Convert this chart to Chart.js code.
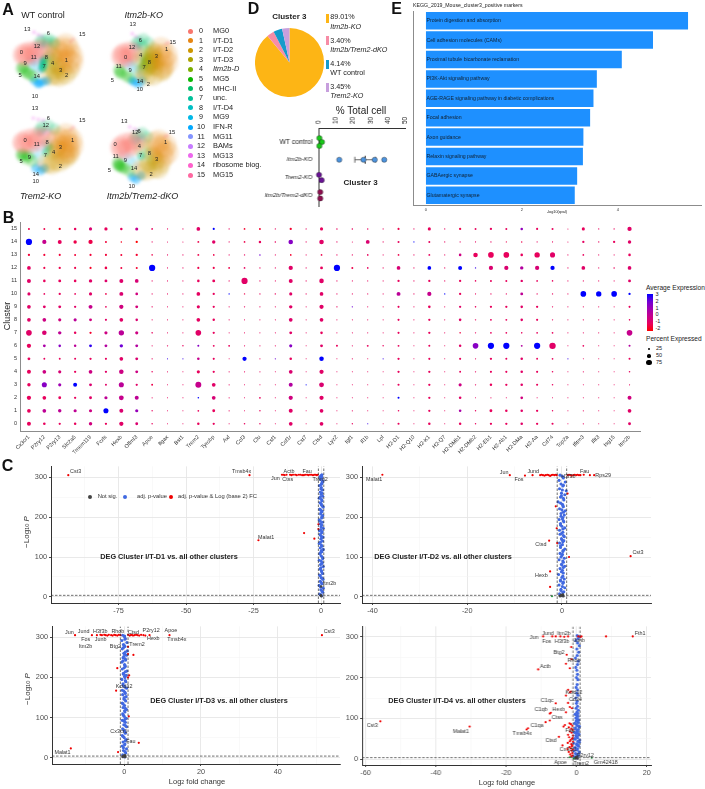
<!DOCTYPE html>
<html>
<head>
<meta charset="utf-8">
<title>Cluster 3 figure</title>
<script src="https://cdn.jsdelivr.net/npm/chart.js@4"></script>
<style>
  html, body { margin: 0; padding: 0; background: #fff; }
  #page { position: relative; width: 705px; height: 789px; overflow: hidden; font-family: "Liberation Sans", Arial, sans-serif; color: #222; }
  #page canvas { position: absolute; }
  .t { position: absolute; white-space: nowrap; line-height: 1; }
  sub { font-size: 70%; vertical-align: -18%; line-height: 0; }
</style>
</head>
<body>
<div id="page"></div>
<script>
// ---------- panel A: umap regions, cluster / x / y
const clusterNames = ['MG0', 'I/T-D1', 'I/T-D2', 'I/T-D3', 'Itm2b-D', 'MG5', 'MHC-II', 'unc.', 'I/T-D4', 'MG9', 'IFN-R', 'MG11', 'BAMs', 'MG13', 'ribosome biog.', 'MG15'];
const wtUmap = [[1,200,140],[1,225,145],[1,238,170],[1,205,165],[1,225,190],[1,195,190],[1,238,195],[1,180,150],[1,215,125],[2,200,225],[2,175,248],[2,215,245],[2,232,225],[2,155,252],[2,190,255],[3,180,210],[3,170,230],[3,165,170],[0,42,160],[0,55,155],[0,70,150],[0,90,150],[0,60,172],[0,45,172],[0,90,168],[0,110,140],[0,128,140],[5,38,220],[5,50,230],[5,70,245],[5,44,215],[5,85,252],[5,60,238],[6,120,105],[6,145,100],[6,165,110],[6,140,115],[6,110,115],[6,170,120],[12,95,130],[12,115,130],[12,130,125],[10,90,270],[10,105,283],[10,125,275],[10,140,270],[10,110,280],[7,125,190],[7,125,205],[7,122,220],[7,130,180],[7,125,190],[7,124,205],[7,123,218],[8,150,170],[8,140,190],[9,75,195],[9,90,210],[9,105,225],[11,100,175],[11,85,185],[14,110,230],[4,160,190],[4,150,215],[4,150,150],[13,88,72],[13,105,82],[13,120,88],[15,235,110],[15,245,100]];
const koUmap = [[3,460,170],[3,470,150],[3,455,195],[3,480,190],[3,445,215],[3,475,215],[3,430,235],[3,465,185],[3,458,205],[3,470,165],[1,500,140],[1,520,165],[1,522,195],[1,505,210],[1,490,165],[1,505,180],[2,500,235],[2,470,250],[2,440,252],[2,510,225],[4,420,165],[4,440,155],[4,430,185],[4,410,185],[0,345,160],[0,355,155],[0,375,150],[0,390,155],[0,348,178],[0,370,176],[0,338,170],[5,332,225],[5,340,240],[5,360,250],[5,375,258],[5,336,235],[6,410,110],[6,430,100],[6,450,115],[6,425,125],[6,400,120],[12,395,130],[12,410,130],[10,395,275],[10,410,285],[10,425,270],[10,385,270],[7,435,190],[7,430,210],[8,425,225],[8,440,175],[9,375,205],[9,390,215],[9,405,230],[11,360,195],[14,415,245],[13,385,78],[13,400,90],[13,415,97],[15,520,120],[15,530,115]];
const trem2Umap = [[1,215,395],[1,235,415],[1,238,440],[1,215,420],[1,190,410],[1,225,460],[1,200,445],[1,205,470],[1,220,440],[1,172,425],[2,190,505],[2,160,515],[2,215,490],[2,170,500],[2,230,475],[2,140,510],[3,180,450],[0,42,420],[0,60,410],[0,85,405],[0,110,400],[0,135,400],[0,52,435],[0,75,430],[0,100,420],[0,40,428],[5,40,480],[5,55,490],[5,80,500],[5,50,475],[5,38,472],[5,65,480],[6,120,360],[6,145,355],[6,170,370],[6,110,375],[12,115,385],[12,140,382],[10,95,530],[10,115,540],[10,130,530],[14,110,515],[13,85,325],[13,105,330],[13,125,335],[15,235,372],[15,245,362],[9,90,465],[9,105,490],[7,135,465],[7,150,445],[8,140,430],[11,115,440],[4,160,465]];
const dkoUmap = [[1,490,410],[1,515,425],[1,523,455],[1,490,435],[1,505,470],[1,475,420],[1,505,445],[2,470,520],[2,440,530],[2,500,500],[2,420,525],[2,490,522],[3,470,470],[3,450,500],[3,480,490],[0,340,425],[0,355,415],[0,380,410],[0,405,405],[0,345,445],[0,365,440],[0,335,435],[0,390,425],[5,328,495],[5,335,510],[5,355,520],[5,375,532],[5,328,505],[5,335,508],[5,345,515],[6,405,385],[6,425,375],[6,445,390],[6,395,400],[12,400,405],[12,420,400],[10,385,555],[10,400,565],[10,420,550],[9,375,480],[9,390,500],[11,350,470],[14,405,510],[13,375,350],[13,395,358],[13,410,365],[15,515,390],[15,525,385],[4,420,440],[4,435,430],[7,420,470],[8,445,460]];
const wtLabels = [[13,82,88],[6,145,101],[15,247,103],[12,111,138],[0,64,156],[11,101,172],[8,139,171],[1,199,182],[9,75,191],[4,158,189],[7,132,198],[3,182,210],[5,60,225],[14,110,228],[2,200,226],[10,105,288]];
const koLabels = [[13,398,72],[6,421,122],[15,518,128],[12,396,143],[0,377,172],[1,500,148],[4,422,165],[3,469,168],[8,448,188],[7,432,203],[11,356,200],[9,390,210],[5,337,240],[14,420,245],[2,445,254],[10,419,267]];
const trem2Labels = [[13,105,326],[6,145,356],[15,247,362],[12,137,377],[0,75,422],[11,110,434],[8,141,428],[1,218,420],[3,181,441],[4,161,458],[7,136,465],[9,88,472],[5,63,485],[14,107,523],[2,181,500],[10,107,544]];
const dkoLabels = [[13,373,364],[6,417,393],[12,406,398],[15,516,397],[0,345,433],[1,497,428],[4,418,440],[8,448,459],[7,422,467],[3,470,478],[11,347,470],[9,376,482],[5,328,510],[14,402,506],[2,453,522],[10,395,560]];

// ---------- panel B: dot plot
const genes = ['Cx3cr1','P2ry12','P2ry13','Slc2a5','Tmem119','Fcrls','Hexb','Olfml3','Apoe','Itgax','Bst1','Trem2','Tyrobp','Axl','Ccl3','Clu','Csf1','Csf1r','Cst7','Ctsd','Lyz2','Igf1','Il1b','Lpl','H2-D1','H2-Q10','H2-K1','H2-Q7','H2-DMb1','H2-DMb2','H2-Eb1','H2-Ab1','H2-DMa','H2-Aa','Cd74','Top2a','Ifitm3','Ifit3','Isg15','Itm2b'];
const pctByCluster = [
  [55,30,25,28,45,25,60,35,10,3,3,28,25,4,12,10,3,50,3,50,3,8,5,3,22,3,28,3,28,10,25,25,30,25,22,3,6,3,3,35],
  [50,50,45,40,40,75,55,40,8,3,3,15,35,6,3,10,3,55,3,50,3,5,3,3,12,3,25,3,30,10,35,28,30,25,10,3,5,3,3,50],
  [60,50,35,25,35,40,70,55,5,4,4,12,50,5,4,15,4,60,3,60,3,3,3,3,20,3,25,3,30,3,5,4,32,4,4,3,3,3,3,55],
  [45,75,40,55,35,20,75,25,18,3,4,90,50,5,4,4,3,55,5,70,3,3,3,3,22,3,25,3,40,8,28,25,30,22,12,3,3,3,3,5],
  [55,50,40,25,50,25,65,35,10,4,3,40,25,5,5,4,3,50,3,60,3,3,3,3,25,3,25,3,18,8,22,22,30,22,12,3,5,3,3,12],
  [35,18,18,20,25,22,50,35,8,4,4,30,22,3,60,5,6,30,3,65,3,5,3,4,25,3,22,3,22,5,25,20,30,18,15,5,3,3,3,20],
  [60,35,30,28,35,35,45,35,4,8,10,20,18,18,5,4,4,40,3,35,20,4,18,10,18,3,20,3,28,85,95,95,18,95,98,3,15,3,3,20],
  [85,65,45,28,25,40,80,40,12,3,3,85,25,3,3,3,3,35,3,30,3,3,3,3,22,3,25,3,12,8,15,15,12,15,15,3,4,3,3,85],
  [50,50,40,40,35,22,50,30,5,3,3,50,28,5,3,3,3,50,3,50,3,3,3,3,22,3,25,3,30,10,18,18,30,22,8,3,6,4,3,12],
  [50,35,35,25,55,15,60,35,10,3,3,40,25,4,8,6,4,45,3,60,10,8,3,3,22,4,30,3,25,12,25,25,30,25,8,3,5,3,3,20],
  [40,15,25,15,40,15,55,32,5,3,3,50,25,8,10,8,10,40,5,50,5,4,4,3,55,5,60,8,25,5,8,6,35,8,8,3,85,80,85,25],
  [55,30,35,30,45,35,55,50,5,3,3,30,35,6,95,6,3,55,5,65,5,3,3,3,25,5,25,5,25,12,20,20,28,15,12,3,5,3,3,35],
  [50,22,25,22,22,30,20,20,95,4,4,22,22,18,15,8,5,60,4,35,95,20,14,5,50,5,50,5,55,8,60,60,45,60,60,4,50,4,10,50],
  [25,22,22,20,22,22,20,25,12,5,5,18,15,4,8,10,4,15,3,15,6,6,14,3,15,5,18,4,30,65,85,85,30,80,75,3,15,3,3,30],
  [95,60,55,45,60,20,12,25,5,3,3,18,45,4,15,28,12,65,5,65,6,3,52,5,20,5,20,5,5,5,8,5,10,5,5,3,25,8,25,45],
  [20,18,25,28,40,42,28,38,15,5,4,50,22,7,15,18,6,25,6,40,10,12,10,5,22,5,40,7,25,18,25,20,30,22,20,3,40,7,8,60]
];
const expByCluster = [
  [-1,-1,-1,-1,-.3,-1,-.8,-.6,-1,-1,-1,-1,-1,-1,-1,-1,-1,-.8,-1,-.8,-1,-1,2.5,-1,-1,-1,-1,-1,-1,-1,-1,-1,-.8,-1,-1,-1,-1,-1,-1,-.8],
  [-1,.2,.2,.2,-.2,3,-.6,1.2,-1,-1,-1,-1,-1,-1,-1,-1,-1,-.8,-1,-.8,-1,-1,-1,-1,-1,-1,-1,-1,.7,-1,-1,-1,-.8,-1,-1,-1,-1,-1,-1,-.8],
  [-1,-1,-1,-1,-.8,.2,0,.2,-1,-1,-1,3,-.5,-1,-1,-1,-1,-.3,-1,-.8,-1,-1,-1,-1,3,-1,-1,-1,-.8,-1,-1,-1,-.3,-1,-1,-1,-1,-1,-1,-.3],
  [-1,1.5,1,3,-.6,-.8,.3,-.8,-1.2,-1,-1,0,-.8,-1,-1,-1,-1,.5,3,-.6,-1,-1,-1,-1,-1,-1,-1,-1,-.2,-1,-1,-1,-.8,-1,-1,-1,-1,-1,-1,-1],
  [-1,-.2,-.5,-1,-.2,-.8,-.2,-.2,-1,-1,-1,-1,-1,-1,-1,-1,-1,-.6,-1,-.8,-1,-1,-1,-1,-1,-1,-1,-1,-1,-1,-1,-1,-.8,-1,-1,-1,-1,-1,-1,-1],
  [-1,-1,-1,-1,-1,-1,-.8,-.6,-1,2.5,2.5,0,-1,-1,3,-1,2,-1,-1,3,-1,-1,-1,2.5,-1,-1,-1,-1,-1,-1,-1,-1,-.8,-1,-1,2.5,-1,-1,-1,-1],
  [-1,.7,1.5,.3,2.6,.5,2,.5,-1,-1,-1,1.5,-1,-1,-1,-1,-1,1.5,-1,-.8,-1,-1,-1,-1,-1,-1,-1,-1,-.8,1.5,3,3,.5,3,-.8,-1,-1,-1,-1,.5],
  [-.8,-.6,.2,-1,-1.5,-.2,.3,-.2,-1,-1,-1,-.8,-1,-1,-1,-1,-1,-.8,-1,-1,-1,-1,-1,-1,-1,-1,-1,-1,-1.3,-1,-1,-1,-1,-1,-1,-1,-1,-1,-1,0],
  [-.8,-.2,-.3,.3,-.3,-.8,-.8,-.6,-1,-1,-1,-.9,-1,-1,-1,-1,-1,-.7,-1,-.8,-1,-1,-1,-1,-1,-1,-1,-1,-.8,-1,-1,-1,-.8,-1,-1,-1,-1,-1,-1,-1],
  [-.8,-.8,-.8,-.8,0,-1,-.3,-.4,-1,-1,-1,-.9,-1,-1,-1,-1,-1,-.8,-1,-.8,-1,2,-1,-1,-1,-1,-1,-1,-.8,-1,-1,-1,-.8,-1,-1,-1,-1,-1,-1,-1],
  [-.8,-1,-1,-1,-.8,-1.2,-.6,-.3,-1,-1,-1,-.9,-1,3,-1.2,-1,-1,-.8,-1,-.8,-1,-1,-1,-1,.3,-1,0,3,-1,-1,-1,-1,.2,-1,-1,-1,3,3,3,3],
  [-.8,-1,-1,-1,-.8,-.7,-.7,-.5,-1,-1,-1,-1,-1,-1,-.8,-1,-1,-.8,-1,-.8,-1,-1,-1,-1,-1,-1,-1,-1,-1,-1,-1,-1,-.8,-1,-1,-1,-1,-1,-1,-.8],
  [-.9,-1.2,-1.2,-1.2,-1.6,-1.2,-1.3,-1.5,3,-1,-1,-1.2,-1.2,-1.2,-1,-1,-1,-.8,-1,-1,3,-1.2,-1,-1,-.5,-1,3,-1,3,2.5,-.6,-.6,.5,-.5,3,-1,-.8,-1,-1,-.7],
  [-1.4,-1.4,-1.4,-1.4,-1.4,-1.4,-1.4,-1.5,-1.2,-1,-1,-1.2,-1.2,-1,-1,2,-1,-1.5,-1,-1.2,-1,-1,-1,-1,-1.2,-1,-1,-1,-.2,-1,-1,-1,-1,-1,-.8,-1,-1,-1,-1,-1],
  [3,0,-1,-1.2,-1.2,-1.4,-1.7,-2,-1,-1,-1,-1.2,-.8,-1,-1.2,-1,-1,1.5,-1,-.8,-1,-1,-.6,-1,-1,3,-1,-1,-1,-1,-1,-1.2,-1.2,-1,-1,-1,-.9,-1,-1,-.8],
  [-1.2,-1.2,-1.5,-1,-.6,-1,-1,0,-1,-1,-1,-.8,3,-1,-1.5,-1.5,-1,-1.5,-1,-1,-1,-1,-1,-1,-1.2,-1,-1,-1,-1.2,-1,-1,-1,1.3,-1,-1,-1,-1,-1,-1,-.8]
];

// ---------- panel C: volcano plots
const d1BlueX = [.2,-.5,.6,-.1,.8,-.7,.3,-.3,.7,0,-.6,.5,.1,-.4,.8,-.2,.4,-.7,.6,0,-.5,.3,.8,-.3,.1,-.7,.5,-.1,.7,-.4,.2,-.6,.8,0,-.3,.5,-.7,.2,.6,-.2,.4,-.5,.8,.1,-.4,.3,-.7,.6,0,-.3,.5,.1,-.6,.3,.7,-.2,
  0,.3,-.2,.1,.4,-.3,.2,-.1,.3,0,.4,-.2,.1,.3,-.3,.2,0,.4,-.1,.2,-.3,.3,.1,-.2,.4,0,.2,-.3,.3,-.1,.1,.4,-.2,.2,0,.3,-.4,.1,.2,-.1];
const d1BlueY = [3,7,12,18,22,29,33,39,44,48,55,59,66,70,76,81,86,92,96,103,108,113,119,123,130,134,140,145,150,156,161,166,172,176,183,187,193,198,204,208,215,220,225,231,236,241,247,252,257,263,268,274,279,285,291,298,
  5,15,25,36,47,53,63,73,84,90,100,111,116,127,137,148,153,164,169,180,190,201,212,218,228,234,244,250,260,271,282,288,294,300,304,306,301,296];
const d1RedX = [-93.6,-26.5,-23.2,-6.3,-2.5,-1,-1,-14.5,-14,-13.5,-12.8,-11.5,-11,-10.4,-9.6,-9,-8.2,-7.6,-7,-6.4,-5.9,-5.2,-4.7,-4.1,-3.6,-3,-2.5,-2,-1.6,-1.2];
const d1RedY = [305,305,142,160,146,182,170,306,306,305,306,306,305,306,306,305,306,306,305,305,306,306,305,306,306,305,306,306,305,306];
const d1GreyX = [0,.1,-.1];
const d1GreyY = [26,2,4];
const d1LabelNames = ['Cst3','Tmsb4x','Malat1','Actb','Jun','Ctss','Fau','Trem2','Itm2b'];
const d1LabelX = [-93.6,-26.5,-23.2,-14,-14.5,-11.5,-5.9,-1,0];
const d1LabelY = [305,305,142,306,306,306,306,306,26];
const d1LabelDx = [7.3,-8,7.7,5.7,-6.5,-2.3,2,1.7,8.3];
const d1LabelDy = [-3.3,-3.3,-2.7,-3.3,3.7,5,-3.3,5,-2.7];

const d2BlueX = [.1,-.5,.4,-.2,.6,-.6,.2,-.3,.5,0,-.7,.3,.1,-.4,.6,-.1,.3,-.6,.5,0,-.4,.2,.6,-.3,.1,-.5,.4,-.1,.5,-.4,.2,-.5,.6,0,-.3,.4,-.6,.2,.5,-.2,.7,-.5,.3,.1,-.8,.4,-.3,.6,-.1,.9,-.5,.2,-.2,.7,-.6,.3,.1,-.4,
  0,.2,-.2,.1,.3,-.3,.2,-.1,.3,0,.2,-.2,.1,.3,-.3,.2,0,.3,-.1,.2,-.3,.3,.1,-.2,.3,0,.2,-.3,.3,-.1,.1,.3];
const d2BlueY = [3,8,13,19,23,30,34,40,45,49,56,60,67,71,77,82,87,93,97,104,109,114,120,124,131,135,141,146,151,157,162,167,173,177,184,188,194,199,205,209,216,221,226,232,238,243,250,256,260,266,271,278,283,288,292,298,302,305,
  5,11,16,26,37,42,52,63,74,80,90,100,107,117,128,138,143,154,159,170,180,191,196,202,212,218,229,235,247,253,268,280];
const d2RedX = [-37.9,14.5,-2.7,-2.5,-2.5,1.2,-1.3,-1.1,-1,1.5,-11,-7.8,-6.2,-4.6,-4.3,-4,-3.7,-3.4,-3.1,-2.8,-2.5,-2.2,-1.9,-1.6,-1.3,-1.1,1.2,1.5,1.8,2.1,2.4,2.7,3,3.3,3.6,3.9,4.6,5.9,6.8];
const d2RedY = [306,102,141,64,25,259,227,172,135,100,305,304,305,305,306,305,304,305,306,305,303,305,306,305,306,305,305,306,305,304,305,306,305,306,305,305,306,305,305];
const d2GreenX = [-2.1];
const d2GreenY = [2];
const d2GreyX = [-.4,0,.3,-.2,.2];
const d2GreyY = [2,3,2,5,6];
const d2LabelNames = ['Malat1','Jun','Fos','Jund','H3f3b','Fau','Rps29','Ctsd','Hexb','Cst3'];
const d2LabelX = [-37.9,-11,-7.8,-6.2,.3,4.6,6.8,-2.7,-2.5,14.5];
const d2LabelY = [306,305,304,305,305,306,305,141,64,102];
const d2LabelDx = [-8.3,-5.7,-6,.7,5,1,9,-8.3,-8.7,7.3];
const d2LabelDy = [4.3,-3,4.3,-3.3,1,-3.3,0,4.3,4.3,-3.3];

const d3BlueX = [.1,-.4,.4,-.2,.6,-.5,.2,-.3,.5,0,-.5,.3,.1,-.4,.6,-.1,.3,-.5,.5,0,-.4,.2,.6,-.3,.1,-.5,.4,-.1,.5,-.4,.2,-.5,.6,0,-.3,.4,-.6,.2,.5,-.2,.7,-.5,.3,.1,-.6,.4,-.3,.6,-.1,.8,-.5,.2,-.2,.7,-.6,.3,.1,-.4,
  0,.2,-.2,.1,.3,-.3,.2,-.1,.3,0,.2,-.2,.1,.3,-.3,.2,0,.3,-.1,.2,-.3,.3,.1,-.2,.3,0,.2,-.3,.3,-.1,.1,.3,-.2,0,.2,.1];
const d3BlueY = [2,7,12,18,22,29,34,39,45,50,55,61,66,72,77,82,88,93,98,103,109,114,120,125,130,136,141,146,152,157,163,168,173,178,184,189,195,200,205,210,216,221,227,232,238,243,249,255,260,266,271,277,282,287,292,297,301,305,
  4,15,25,32,42,53,64,69,80,91,96,106,117,123,134,144,150,160,166,176,181,192,203,208,214,224,230,241,246,252,258,263,274,280,295,303];
const d3RedX = [-12.8,-8.4,-7.1,-6.2,-5.8,-5.2,-4.8,-4.4,-4,-3.4,-3,-2.6,-2.2,-1.8,-1.4,-1,1,1.4,1.7,2,2.3,2.7,3.1,3.5,3.9,4.4,5,5.5,6.6,11.8,51.5,1,1,2.4,-1.8,1.3,1,-2.1,1.2,3.8,-13.9,-1.6];
const d3RedY = [305,305,305,306,305,306,305,304,306,305,304,306,305,304,306,305,306,304,305,306,304,305,306,305,304,306,305,304,305,305,305,276,258,256,223,205,200,167,103,37,23,14];
const d3GreyX = [-.4,0,.3,-.2,.2];
const d3GreyY = [2,3,2,5,6];
const d3LabelNames = ['Jun','Jund','H3f3b','Rhob','Ctsd','P2ry12','Apoe','Fos','Junb','Itm2b','Btg2','Trem2','Hexb','Tmsb4x','Kctd12','Cx3cr1','Fau','Malat1','Cst3'];
const d3LabelX = [-12.8,-8.4,-5.8,-2.35,1.7,5,6.6,-7.1,-4.4,-3.1,-1,1,5.5,11.8,-2.1,0,0,-13.9,51.5];
const d3LabelY = [305,305,305,305,305,305,305,305,305,305,305,276,305,305,167,60,32,23,305];
const d3LabelDx = [-5.7,-8.3,-1.7,2.7,2.7,7.7,21.3,-11.3,-6.7,-26.7,-5,9,8,7.3,8,-5.3,6.7,-8.3,7.3];
const d3LabelDy = [-2.3,-3.3,-3.3,-3.3,-2.7,-4.3,-4.3,4.3,4.7,11.7,11.7,-2.3,3.3,4.7,-4,-2,-3.3,4.3,-3.3];

const d4BlueX = [.2,-.6,.5,-.3,.8,-.7,.3,-.4,.6,0,-.8,.4,.9,-.5,.2,-.2,.7,-.6,.1,.5,-.3,.8,0,-.5,.3,.6,-.2,.4,-.4,.1,.5,-.1,.3,0,.2,-.2,.4,.1,.3,-.1,.2,.4,0,.3,.1,-.2,.3,.5,-.3,.2,.6,.1,.8,.3,-.2,.4,.9,.2,
  .4,0,.7,.2,-.2,.5,.1,.8,-.4,.3,.6,0,.4,-.3,.7,.2,.5,-.1,.3,.1,.4];
const d4BlueY = [3,6,10,14,18,21,25,29,32,36,40,44,47,51,55,58,62,66,70,73,77,81,85,88,92,96,101,105,110,115,120,125,130,137,142,150,157,162,170,176,183,195,200,208,218,225,232,240,248,254,262,270,278,285,291,296,300,303,
  8,12,16,23,27,34,38,42,49,53,60,64,68,75,79,83,90,94,98,107,112];
const d4RedX = [-55.8,-30.4,-10.9,16,8.4,-9.5,-6.9,-5.9,-4.6,-3.5,-2.4,.5,1.4,1.1,-2.8,-1.5,-1.4,-3,-1.9,-2.4,-1.9,-3,-1.6,-5.9,-2.4,-7.6,-7.3,-3,-1.9,-1.3,-7.6,-8.8,-13.8,-14.2,-5,-4,-3.3,-3.7,-2,-1.6,-1.2,-2.2,-1.5,-1.1,-1.9,-1.4,-2.4,-1,-2.1,-1.3,-1.7,-1,-2.5,-1.5,-1.2,-2,-1.6,-1,-1.4,-2.2,-1.2,-1.8,-1.1,-1.5,-2.6,-1.3,-1.9,-1.1];
const d4RedY = [93,80,220,301,301,301,301,301,301,300,301,301,301,300,256,275,245,234,223,170,164,156,166,137,138,112,114,115,128,125,95,91,76,73,55,34,84,80,88,86,82,78,75,72,68,65,60,58,54,50,47,43,40,37,34,30,27,24,21,18,15,12,9,7,25,32,44,52];
const d4GreenX = [4.3,-1.9,-.8];
const d4GreenY = [4,5,2];
const d4GreyX = [-.4,0,.3,-.2,.2];
const d4GreyY = [2,3,2,5,6];
const d4LabelNames = ['Jun','Jund','Itm2b','Fos','H3f3b','Junb','Fth1','Btg2','Rhob','Actb','Kctd12','Cd34','C1qc','C1qb','Hexb','Ctss','C1qa','Tmsb4x','Cst3','Malat1','Fau','Ctsd','Cx3cr1','P2ry12','Apoe','Trem2','Gm42418'];
const d4LabelX = [-9.5,-6.9,-4.6,-5.9,-2.4,-.8,16,-2.8,-1.4,-10.9,-1.9,-2.4,-5.9,-7.6,-3,-7.6,-13.8,-14.2,-55.8,-30.4,-1.5,-5,-1.9,0,-1.9,-.8,4.3];
const d4LabelY = [301,301,301,301,301,301,301,256,245,220,164,138,137,112,115,95,76,73,93,80,76,55,29,5,5,2,4];
const d4LabelDx = [-9,-4.3,3.3,-9,-6,5.3,7.3,-7.7,2.3,7,4,7.3,-8.7,-8.7,-7.3,7.3,9,-4.3,-8,-8.7,-1.3,-8,-1.7,8.7,-9.3,7.3,14];
const d4LabelDy = [.7,-3.3,-3.3,4.7,4.7,4.3,-3,-2.7,1.7,-2.7,0,-3,-3,-4.3,-2.7,-2.7,-2.3,3.7,4.3,4.7,2.3,4,1.7,-1.7,5.7,4.7,5];
const fcCut = 1;
const pCut = 4;

// ---------- panel D
const pieLabels = ['Itm2b-KO', 'Itm2b/Trem2-dKO', 'WT control', 'Trem2-KO'];
const pieValues = [89.01, 3.40, 4.14, 3.45];
const groupNames = ['WT control', 'Itm2b-KO', 'Trem2-KO', 'Itm2b/Trem2-dKO'];
const wtCellX = [.5, 2, .5];
const koCellX = [12, 26, 32.5, 38];
const trem2CellX = [.3, 1.8];
const dkoCellX = [1, 1];
const wtCellRow = [-.22, 0, .22];
const koCellRow = [1, 1, 1, 1];
const trem2CellRow = [1.85, 2.15];
const dkoCellRow = [2.82, 3.18];
const koMean = 27;
const koLow = 21;
const koHigh = 33;
const cellTicks = [0, 10, 20, 30, 40, 50];

// ---------- panel E
const keggTerms = ['Protein digestion and absorption','Cell adhesion molecules (CAMs)','Proximal tubule bicarbonate reclamation','PI3K-Akt signaling pathway','AGE-RAGE signaling pathway in diabetic complications','Focal adhesion','Axon guidance','Relaxin signaling pathway','GABAergic synapse','Glutamatergic synapse'];
const keggScore = [5.46, 4.73, 4.08, 3.56, 3.49, 3.42, 3.28, 3.27, 3.15, 3.10];
const keggTicks = [0, 2, 4];

// ---------- styles
const clusterColors = ['#F8766D','#E68613','#CD9600','#ABA300','#7CAE00','#0CB702','#00BE67','#00C19A','#00BFC4','#00B8E7','#00A9FF','#8494FF','#C77CFF','#ED68ED','#FF61CC','#FF68A1'];
const clusterRadius = [10,12,10,9,8,6,6,4,6,6,4.5,6,4,1.2,3,1.2];
const clusterAlpha = [.2,.17,.2,.26,.14,.24,.22,.45,.15,.14,.45,.14,.22,.8,.12,.6];
const font = '"Liberation Sans", Arial, sans-serif';
Chart.defaults.font.family = font;
Chart.defaults.animation = false;
Chart.defaults.responsive = false;
Chart.defaults.plugins.legend.display = false;
Chart.defaults.plugins.tooltip.enabled = false;

const page = document.getElementById('page');

function label(html, x, y, css, align, rot) {
  const d = document.createElement('div');
  d.className = 't';
  d.innerHTML = html;
  d.style.cssText = 'left:' + x + 'px;top:' + y + 'px;' + (css || '');
  const tx = align === 'left' ? '0' : align === 'right' ? '-100%' : '-50%';
  d.style.transform = 'translate(' + tx + ',-50%)' + (rot ? ' rotate(' + rot + 'deg)' : '');
  page.appendChild(d);
  return d;
}

function zip(xs, ys) {
  return xs.map((x, i) => ({ x: x, y: ys[i] }));
}

// makes a canvas so that the plot area lands on rect l,t,r,b with the given margins around
function plotChart(rect, m, config) {
  const c = document.createElement('canvas');
  const w = rect.r - rect.l + m.l + m.r;
  const h = rect.b - rect.t + m.t + m.b;
  c.width = w;
  c.height = h;
  c.style.left = (rect.l - m.l) + 'px';
  c.style.top = (rect.t - m.t) + 'px';
  c.style.width = w + 'px';
  c.style.height = h + 'px';
  page.appendChild(c);
  config.options = config.options || {};
  config.options.layout = { padding: { top: m.t, right: m.r, left: 0, bottom: 0 } };
  const scales = config.options.scales || {};
  if (scales.x) scales.x.afterFit = s => { s.height = scales.x.position === 'top' ? m.t : m.b; };
  if (scales.y) scales.y.afterFit = s => { s.width = m.l; };
  if (scales.x && scales.x.position === 'top') config.options.layout.padding = { top: 0, right: m.r, left: 0, bottom: m.b };
  return new Chart(c.getContext('2d'), config);
}

function pointLabels(names, xs, ys, dxs, dys, size, color) {
  return {
    id: 'pointLabels',
    afterDatasetsDraw(chart) {
      const g = chart.ctx;
      g.save();
      g.font = size + 'px ' + font;
      g.fillStyle = color;
      g.textAlign = 'center';
      g.textBaseline = 'middle';
      names.forEach((n, i) => {
        const px = chart.scales.x.getPixelForValue(xs[i]) + (dxs ? dxs[i] : 0);
        const py = chart.scales.y.getPixelForValue(ys[i]) + (dys ? dys[i] : 0);
        g.fillText(n, px, py);
      });
      g.restore();
    }
  };
}

// ---------- panel A
const umapPanels = [
  { pts: wtUmap, labels: wtLabels, x: [0, 288], y: [30, 300], rect: { l: 0, t: 10, r: 96, b: 100 } },
  { pts: koUmap, labels: koLabels, x: [288, 576], y: [30, 300], rect: { l: 96, t: 10, r: 192, b: 100 } },
  { pts: trem2Umap, labels: trem2Labels, x: [0, 288], y: [300, 570], rect: { l: 0, t: 100, r: 96, b: 190 } },
  { pts: dkoUmap, labels: dkoLabels, x: [288, 576], y: [330, 600], rect: { l: 96, t: 110, r: 192, b: 200 } }
];
umapPanels.forEach(p => {
  const sets = clusterNames.map((n, k) => {
    const hex = clusterColors[k];
    const rgb = [1, 3, 5].map(i => parseInt(hex.substr(i, 2), 16)).join(',');
    return {
      data: p.pts.filter(q => q[0] === k).map(q => ({ x: q[1], y: q[2] })),
      pointRadius: clusterRadius[k],
      pointBorderWidth: 0,
      pointBackgroundColor: 'rgba(' + rgb + ',' + clusterAlpha[k] + ')'
    };
  });
  const ch = plotChart(p.rect, { l: 0, r: 0, t: 0, b: 0 }, {
    type: 'scatter',
    data: { datasets: sets },
    options: {
      scales: {
        x: { display: false, min: p.x[0], max: p.x[1] },
        y: { display: false, reverse: true, min: p.y[0], max: p.y[1] }
      }
    }
  });
  ch.canvas.style.filter = 'blur(1.6px)';
  // numbers sit on a sharp layer above the blurred regions
  plotChart(p.rect, { l: 0, r: 0, t: 0, b: 0 }, {
    type: 'scatter',
    data: { datasets: [{ data: [], pointRadius: 0 }] },
    options: {
      scales: {
        x: { display: false, min: p.x[0], max: p.x[1] },
        y: { display: false, reverse: true, min: p.y[0], max: p.y[1] }
      }
    },
    plugins: [pointLabels(p.labels.map(q => String(q[0])), p.labels.map(q => q[1]), p.labels.map(q => q[2]), null, null, 5.8, '#222')]
  });
});
label('WT control', 43, 15, 'font-size:9px');
label('Itm2b-KO', 143.7, 15, 'font-size:9px;font-style:italic');
label('Trem2-KO', 40.7, 195.5, 'font-size:9px;font-style:italic');
label('Itm2b/Trem2-dKO', 142.5, 195.5, 'font-size:9px;font-style:italic');
clusterNames.forEach((n, i) => {
  const y = 31 + 9.6 * i;
  const dot = document.createElement('div');
  dot.style.cssText = 'position:absolute;width:5px;height:5px;border-radius:50%;left:187.5px;top:' + (y - 2.5) + 'px;background:' + clusterColors[i];
  page.appendChild(dot);
  label(String(i), 201, y, 'font-size:7.2px', 'center');
  label(n, 213, y, 'font-size:7.4px;' + (i === 4 ? 'font-style:italic' : ''), 'left');
});

// ---------- panel B
const expStops = [[-2, 255, 0, 0], [-1, 232, 0, 92], [0, 198, 0, 140], [1, 160, 0, 178], [2, 112, 0, 214], [3, 0, 0, 255]];
function expColor(v) {
  for (let i = 1; i < expStops.length; i++) {
    if (v <= expStops[i][0]) {
      const a = expStops[i - 1], b = expStops[i], t = (v - a[0]) / (b[0] - a[0]);
      return 'rgb(' + [1, 2, 3].map(k => Math.round(a[k] + (b[k] - a[k]) * t)).join(',') + ')';
    }
  }
  return 'rgb(0,0,255)';
}
const pctRadius = p => 0.45 + 0.028 * p;
const dotPoints = [], dotRadius = [], dotColor = [];
pctByCluster.forEach((row, cl) => row.forEach((p, g) => {
  dotPoints.push({ x: g, y: cl });
  dotRadius.push(pctRadius(p));
  dotColor.push(expColor(expByCluster[cl][g]));
}));
plotChart({ l: 20, t: 220, r: 640, b: 431 }, { l: 20, r: 6, t: 2, b: 28 }, {
  type: 'scatter',
  data: { datasets: [{ data: dotPoints, pointRadius: dotRadius, pointBackgroundColor: dotColor, pointBorderWidth: 0 }] },
  options: {
    scales: {
      x: {
        min: -0.58, max: 39.68,
        grid: { display: false, tickLength: 2 },
        border: { color: '#8c8c8c', width: 1 },
        ticks: { stepSize: 1, includeBounds: false, autoSkip: false, minRotation: 45, maxRotation: 45, padding: 1, color: '#333', font: { size: 5.5 }, callback: v => genes[v] }
      },
      y: {
        min: -0.556, max: 15.51,
        grid: { display: false, tickLength: 2 },
        border: { color: '#8c8c8c', width: 1 },
        ticks: { stepSize: 1, includeBounds: false, autoSkip: false, padding: 1, color: '#333', font: { size: 5.5 } }
      }
    }
  }
});
label('Cluster', 6.5, 316, 'font-size:9px', 'center', -90);
label('Average Expression', 646, 288, 'font-size:6.6px', 'left');
label('Percent Expressed', 646, 339, 'font-size:6.6px', 'left');
const ramp = document.createElement('div');
ramp.style.cssText = 'position:absolute;left:646.7px;top:294px;width:6.5px;height:37px;background:linear-gradient(#0000ff,#7000d6,#a000b2,#c6008c,#e8005c,#ff0000)';
page.appendChild(ramp);
['3', '2', '1', '0', '-1', '-2'].forEach((s, i) => label(s, 655.5, 295 + 6.8 * i, 'font-size:5.5px', 'left'));
[[25, 349], [50, 355.7], [75, 362.7]].forEach(e => {
  const r = pctRadius(e[0]);
  const d = document.createElement('div');
  d.style.cssText = 'position:absolute;background:#000;border-radius:50%;left:' + (649 - r) + 'px;top:' + (e[1] - r) + 'px;width:' + (2 * r) + 'px;height:' + (2 * r) + 'px';
  page.appendChild(d);
  label(String(e[0]), 656, e[1], 'font-size:5.5px', 'left');
});

// ---------- panel C
const BLUE = '#4169E1', RED = '#F00000', GREY = '#444', GREEN = '#1f9a3c';
function volcano(o) {
  const line = (pts) => ({ type: 'scatter', data: pts, showLine: true, pointRadius: 0, borderColor: '#333', borderWidth: 0.7, borderDash: [2.5, 1.5], order: 0 });
  const sets = [
    { data: zip(o.greyX, o.greyY), pointRadius: 1.3, pointBorderWidth: 0, pointBackgroundColor: GREY, order: 1 },
    { data: zip(o.blueX, o.blueY), pointRadius: 1.55, pointBorderWidth: 0, pointBackgroundColor: BLUE, order: 3 },
    { data: zip(o.redX, o.redY), pointRadius: 1.1, pointBorderWidth: 0, pointBackgroundColor: RED, order: 2 },
    line([{ x: o.x[0], y: pCut }, { x: o.x[1], y: pCut }]),
    line([{ x: -fcCut, y: o.y[0] }, { x: -fcCut, y: o.y[1] }]),
    line([{ x: fcCut, y: o.y[0] }, { x: fcCut, y: o.y[1] }])
  ];
  if (o.greenX) sets.push({ data: zip(o.greenX, o.greenY), pointRadius: 1, pointBorderWidth: 0, pointBackgroundColor: GREEN, order: 0 });
  const lab = { color: '#4d4d4d', autoSkip: false, includeBounds: false, padding: 2, font: { size: 7.3 } };
  const xText = v => (v % o.xStep === 0 && v !== o.x[0] ? v : '');
  plotChart(o.rect, { l: 24, r: 8, t: 0, b: 14 }, {
    type: 'scatter',
    data: { datasets: sets },
    options: {
      scales: {
        x: {
          min: o.x[0], max: o.x[1],
          border: { color: '#333', width: 1 },
          grid: {
            tickLength: 2, tickColor: c => (c.tick && xText(c.tick.value) !== '' ? '#333' : 'rgba(0,0,0,0)'),
            color: c => c.tick && c.tick.value % o.xStep === 0 ? '#e6e6e6' : '#f3f3f3',
            lineWidth: c => c.tick && c.tick.value % o.xStep === 0 ? 0.9 : 0.5
          },
          ticks: Object.assign({}, lab, { stepSize: o.xStep / 2, callback: xText })
        },
        y: {
          min: o.y[0], max: o.y[1],
          border: { color: '#333', width: 1 },
          grid: {
            tickLength: 2, tickColor: c => (c.tick && c.tick.value % 100 === 0 ? '#333' : 'rgba(0,0,0,0)'),
            color: c => c.tick && c.tick.value % 100 === 0 ? '#e6e6e6' : '#f3f3f3',
            lineWidth: c => c.tick && c.tick.value % 100 === 0 ? 0.9 : 0.5
          },
          ticks: Object.assign({}, lab, { stepSize: 50, callback: v => (v % 100 === 0 ? v : '') })
        }
      }
    },
    plugins: [pointLabels(o.names, o.labelX, o.labelY, o.dx, o.dy, 5.4, '#333')]
  });
  label(o.title, o.titleX, o.titleY, 'font-size:7.3px;font-weight:bold');
}
volcano({
  rect: { l: 51, t: 460, r: 340, b: 603.3 }, x: [-100, 7], y: [-15.2, 327], xStep: 25,
  blueX: d1BlueX, blueY: d1BlueY, redX: d1RedX, redY: d1RedY, greyX: d1GreyX, greyY: d1GreyY,
  names: d1LabelNames, labelX: d1LabelX, labelY: d1LabelY, dx: d1LabelDx, dy: d1LabelDy,
  title: 'DEG Cluster I/T-D1 vs. all other clusters', titleX: 169, titleY: 557.3
});
volcano({
  rect: { l: 362, t: 460, r: 651, b: 603.3 }, x: [-42.2, 18.8], y: [-15.2, 327], xStep: 20,
  blueX: d2BlueX, blueY: d2BlueY, redX: d2RedX, redY: d2RedY, greyX: d2GreyX, greyY: d2GreyY, greenX: d2GreenX, greenY: d2GreenY,
  names: d2LabelNames, labelX: d2LabelX, labelY: d2LabelY, dx: d2LabelDx, dy: d2LabelDy,
  title: 'DEG Cluster I/T-D2 vs. all other clusters', titleX: 443, titleY: 557.3
});
volcano({
  rect: { l: 51.7, t: 620, r: 340, b: 764.3 }, x: [-18.8, 56.2], y: [-15.7, 327], xStep: 20,
  blueX: d3BlueX, blueY: d3BlueY, redX: d3RedX, redY: d3RedY, greyX: d3GreyX, greyY: d3GreyY,
  names: d3LabelNames, labelX: d3LabelX, labelY: d3LabelY, dx: d3LabelDx, dy: d3LabelDy,
  title: 'DEG Cluster I/T-D3 vs. all other clusters', titleX: 219, titleY: 701
});
volcano({
  rect: { l: 362.3, t: 620, r: 651, b: 765 }, x: [-61, 21.2], y: [-14, 325.5], xStep: 20,
  blueX: d4BlueX, blueY: d4BlueY, redX: d4RedX, redY: d4RedY, greyX: d4GreyX, greyY: d4GreyY, greenX: d4GreenX, greenY: d4GreenY,
  names: d4LabelNames, labelX: d4LabelX, labelY: d4LabelY, dx: d4LabelDx, dy: d4LabelDy,
  title: 'DEG Cluster I/T-D4 vs. all other clusters', titleX: 457, titleY: 701
});
const yTitle = '&minus;Log<sub>10</sub> <i>P</i>';
label(yTitle, 27, 532, 'font-size:8px;color:#333', 'center', -90);
label(yTitle, 28, 689, 'font-size:8px;color:#333', 'center', -90);
const xTitle = 'Log<sub>2</sub> fold change';
label(xTitle, 197, 782, 'font-size:7.5px;color:#333');
label(xTitle, 507, 783, 'font-size:7.5px;color:#333');
// legend of the first volcano
[[90, GREY, 97.7, 'Not sig.'], [125, BLUE, 137, 'adj. p-value'], [170.7, RED, 178, 'adj. p-value &amp; Log (base 2) FC']].forEach(e => {
  const d = document.createElement('div');
  d.style.cssText = 'position:absolute;width:4.5px;height:4.5px;border-radius:50%;top:494.5px;left:' + (e[0] - 2.2) + 'px;background:' + e[1];
  page.appendChild(d);
  label(e[3], e[2], 497, 'font-size:5.8px;color:#333', 'left');
});

// ---------- panel D, pie
const pieColors = ['#FDB515', '#F78CA6', '#159BCB', '#C79FDD'];
plotChart({ l: 254.5, t: 27.5, r: 324, b: 97 }, { l: 0, r: 0, t: 0, b: 0 }, {
  type: 'pie',
  data: { labels: pieLabels, datasets: [{ data: pieValues, backgroundColor: pieColors, borderWidth: 0 }] },
  options: { rotation: 0 }
});
label('Cluster 3', 289.3, 16.7, 'font-size:8px;font-weight:bold');
[[14, 18, 17.3, 26.7], [36, 45, 40.7, 50], [60, 68, 64, 73], [83, 92, 87, 96]].forEach((e, i) => {
  const d = document.createElement('div');
  d.style.cssText = 'position:absolute;left:325.7px;width:3.5px;top:' + e[0] + 'px;height:8.5px;background:' + pieColors[i];
  page.appendChild(d);
  label(pieValues[i].toFixed(2) + '%', 330.3, e[2], 'font-size:7.2px', 'left');
  label(pieLabels[i], 330.3, e[3], 'font-size:7.2px;' + (i === 2 ? '' : 'font-style:italic'), 'left');
});

// panel D, cell share
const cellSet = (xs, rows, color) => ({ data: zip(xs, rows), clip: false, pointRadius: 2.6, pointBorderWidth: 0.4, pointBorderColor: '#222', pointBackgroundColor: color });
plotChart({ l: 318.3, t: 128, r: 405, b: 212 }, { l: 90, r: 8, t: 14, b: 1 }, {
  type: 'scatter',
  data: {
    datasets: [
      cellSet(wtCellX, wtCellRow, '#18C918'),
      cellSet(koCellX, koCellRow, '#4C93DE'),
      cellSet(trem2CellX, trem2CellRow, '#6A1296'),
      cellSet(dkoCellX, dkoCellRow, '#8E0E50'),
      { data: [{ x: koLow, y: 1 }, { x: koHigh, y: 1 }], showLine: true, borderColor: '#444', borderWidth: 0.8, pointStyle: 'line', rotation: 90, pointRadius: 3, pointBorderColor: '#444', pointBorderWidth: 0.8 },
      { data: [{ x: koMean, y: 1 }], pointStyle: 'line', rotation: 90, pointRadius: 4, pointBorderColor: '#222', pointBorderWidth: 1 }
    ]
  },
  options: {
    scales: {
      x: {
        position: 'top', min: 0, max: 50,
        border: { color: '#333', width: 1 },
        grid: { display: false, tickLength: 3, tickColor: '#333' },
        afterBuildTicks: s => { s.ticks = cellTicks.map(v => ({ value: v })); },
        ticks: { minRotation: 90, maxRotation: 90, padding: 1, labelOffset: 8, color: '#222', font: { size: 6.5 } }
      },
      y: {
        reverse: true, min: -0.79, max: 3.63,
        border: { color: '#333', width: 1 },
        grid: { display: false, tickLength: 3, tickColor: '#333' },
        ticks: {
          stepSize: 1, includeBounds: false, autoSkip: false, padding: 3, color: '#222',
          font: c => ({ size: c.tick && c.tick.value === 0 ? 6.8 : 6, style: c.tick && c.tick.value === 0 ? 'normal' : 'italic' }),
          callback: v => groupNames[v]
        }
      }
    }
  }
});
label('% Total cell', 361, 111, 'font-size:10px');
label('Cluster 3', 360.7, 183, 'font-size:8px;font-weight:bold');

// ---------- panel E
const barText = {
  id: 'barText',
  afterDatasetsDraw(chart) {
    const g = chart.ctx;
    g.save();
    g.font = '5.2px ' + font;
    g.fillStyle = '#123';
    g.textAlign = 'left';
    g.textBaseline = 'middle';
    keggTerms.forEach((t, i) => g.fillText(t, chart.scales.x.getPixelForValue(0) + 0.5, chart.scales.y.getPixelForValue(i)));
    g.restore();
  }
};
plotChart({ l: 412.7, t: 10.7, r: 701, b: 205 }, { l: 1, r: 3, t: 0, b: 8 }, {
  type: 'bar',
  data: { labels: keggTerms, datasets: [{ data: keggScore, backgroundColor: '#1E90FF', barPercentage: 0.9, categoryPercentage: 1 }] },
  options: {
    indexAxis: 'y',
    scales: {
      x: {
        min: -0.27, max: 5.73,
        border: { color: '#8c8c8c', width: 1 },
        grid: { display: false, tickLength: 1 },
        afterBuildTicks: s => { s.ticks = keggTicks.map(v => ({ value: v })); },
        ticks: { padding: 1, color: '#333', font: { size: 4 } }
      },
      y: {
        border: { color: '#8c8c8c', width: 1 },
        grid: { display: false, drawTicks: false },
        ticks: { display: false }
      }
    }
  },
  plugins: [barText]
});
label('KEGG_2019_Mouse_cluster3_positive markers', 413, 5.7, 'font-size:5.2px', 'left');
label('-log10(qval)', 557, 213.3, 'font-size:3.8px');

// panel letters
[['A', 8, 10], ['B', 8.5, 218], ['C', 7.5, 466], ['D', 253.5, 8.5], ['E', 396.5, 8.5]].forEach(e => label(e[0], e[1], e[2], 'font-size:16px;font-weight:bold;color:#111'));
</script>
</body>
</html>
